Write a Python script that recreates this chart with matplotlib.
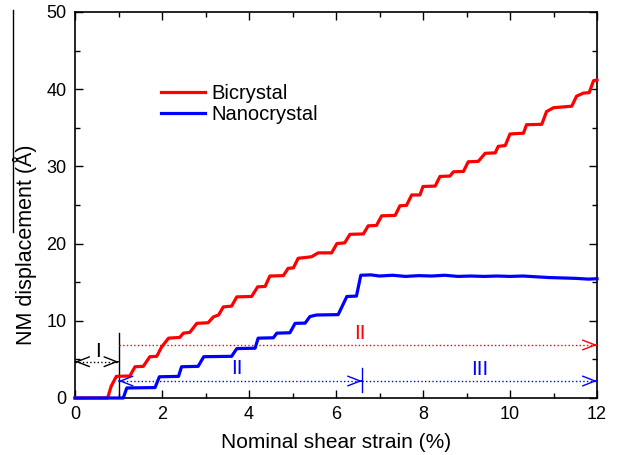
import numpy as np
import matplotlib
matplotlib.use('Agg')
import matplotlib.pyplot as plt
from matplotlib.ticker import MultipleLocator
from matplotlib.lines import Line2D

plt.rcParams['font.family'] = ['Liberation Sans', 'DejaVu Sans']

# Bicrystal curve (strain %, displacement A)
bi_x = [0, 0.75, 0.83, 0.95, 1.26, 1.38, 1.57, 1.72, 1.88, 1.99, 2.15, 2.41, 2.49, 2.64,
        2.8, 3.06, 3.18, 3.3, 3.41, 3.6, 3.72, 4.06, 4.2, 4.37, 4.48, 4.79, 4.9, 5.02,
        5.13, 5.3, 5.44, 5.59, 5.9, 6.02, 6.2, 6.32, 6.63, 6.74, 6.93, 7.05, 7.36, 7.47,
        7.62, 7.74, 7.93, 8.0, 8.28, 8.39, 8.62, 8.7, 8.93, 9.04, 9.27, 9.43, 9.66, 9.73,
        9.89, 10.0, 10.31, 10.38, 10.73, 10.84, 11.0, 11.42, 11.53, 11.69, 11.82, 11.92, 12.0]
bi_y = [0, 0, 1.5, 2.8, 2.85, 4.05, 4.1, 5.35, 5.4, 6.6, 7.75, 7.85, 8.4, 8.5,
        9.67, 9.75, 10.5, 10.75, 11.8, 11.9, 13.1, 13.15, 14.4, 14.45, 15.8, 15.85, 16.8, 16.85,
        18.1, 18.2, 18.3, 18.8, 18.8, 20.0, 20.1, 21.2, 21.25, 22.3, 22.35, 23.6, 23.65, 24.9,
        24.95, 26.3, 26.3, 27.4, 27.45, 28.7, 28.75, 29.3, 29.35, 30.6, 30.65, 31.7, 31.75, 32.6,
        32.7, 34.2, 34.3, 35.4, 35.45, 37.1, 37.6, 37.8, 39.1, 39.5, 39.55, 41.1, 41.2]

# Nanocrystal curve
nano_x = [0, 1.11, 1.19, 1.84, 1.94, 2.38, 2.45, 2.83, 2.96, 3.6, 3.72, 4.14, 4.21, 4.56,
          4.64, 4.94, 5.06, 5.29, 5.4, 5.55, 6.05, 6.25, 6.47, 6.57, 6.8, 7.0, 7.3, 7.6,
          7.9, 8.2, 8.5, 8.8, 9.1, 9.4, 9.7, 10.0, 10.3, 10.6, 10.9, 11.2, 11.5, 11.8, 12.0]
nano_y = [0, 0, 1.3, 1.35, 2.75, 2.8, 4.05, 4.1, 5.35, 5.4, 6.4, 6.45, 7.75, 7.8,
          8.4, 8.45, 9.67, 9.7, 10.55, 10.75, 10.8, 13.15, 13.2, 15.9, 15.95, 15.8, 15.9, 15.75,
          15.85, 15.8, 15.9, 15.75, 15.8, 15.75, 15.8, 15.75, 15.8, 15.7, 15.6, 15.55, 15.5, 15.4, 15.45]

# stage markers
strain_1 = 1.0
strain_2 = 6.6
y_black = 4.7
y_red = 6.87
y_blue = 2.2

fig = plt.figure(figsize=(6.17, 4.55), dpi=100)
ax = fig.add_axes([75/617, 57/455, 522/617, 386/455])

ax.plot(bi_x, bi_y, color='#ff0000', lw=2.3, label='Bicrystal', clip_on=False, zorder=3)
ax.plot(nano_x, nano_y, color='#0000ff', lw=2.3, label='Nanocrystal', clip_on=False, zorder=4)

def head(x0, x1, y, c):
    ax.annotate('', xy=(x1, y), xytext=(x0, y),
                arrowprops=dict(arrowstyle='->,head_length=0.9,head_width=0.35',
                                color=c, lw=1.0, shrinkA=0, shrinkB=0))

# stage I (black)
ax.plot([0, strain_1], [y_black, y_black], color='black', lw=1.0, ls=':')
head(0.02, 0, y_black, 'black')
head(strain_1 - 0.02, strain_1, y_black, 'black')
ax.plot([strain_1, strain_1], [0, 8.4], color='black', lw=1.0)
ax.text(0.53, 6.0, 'I', color='black', fontsize=15, ha='center', va='center')

# bicrystal stage II (red)
ax.plot([strain_1, 12], [y_red, y_red], color='#ff0000', lw=1.0, ls=':')
head(11.98, 12, y_red, '#ff0000')
ax.text(6.55, 8.3, 'II', color='#ff0000', fontsize=15, ha='center', va='center')

# nanocrystal stages II and III (blue)
ax.plot([strain_1, 12], [y_blue, y_blue], color='#0000ff', lw=1.0, ls=':')
head(strain_1 + 0.02, strain_1, y_blue, '#0000ff')
head(strain_2 - 0.02, strain_2, y_blue, '#0000ff')
head(11.98, 12, y_blue, '#0000ff')
ax.plot([strain_2, strain_2], [0.8, 3.9], color='#0000ff', lw=1.0)
ax.text(3.72, 3.85, 'II', color='#0000ff', fontsize=15, ha='center', va='center')
ax.text(9.31, 3.75, 'III', color='#0000ff', fontsize=15, ha='center', va='center')

ax.set_xlim(0, 12)
ax.set_ylim(0, 50)
ax.xaxis.set_major_locator(MultipleLocator(2))
ax.xaxis.set_minor_locator(MultipleLocator(1))
ax.yaxis.set_major_locator(MultipleLocator(10))
ax.yaxis.set_minor_locator(MultipleLocator(5))
ax.tick_params(which='both', direction='in', top=True, right=True, width=1, labelsize=13)
ax.tick_params(which='major', length=6, pad=6)
ax.tick_params(which='minor', length=3.5)
for s in ax.spines.values():
    s.set_linewidth(1.2)

ax.set_xlabel('Nominal shear strain (%)', fontsize=15, labelpad=7)
fig.text(25/617, 1 - 245/455, 'NM displacement (Å)', rotation=90, fontsize=15.5,
         ha='center', va='center')
fig.add_artist(Line2D([13/617, 13/617], [1 - 10/455, 1 - 232/455], color='black', lw=1.0))

ax.legend(loc='upper left', bbox_to_anchor=(0.145, 0.84), frameon=False, fontsize=14.5,
          handlelength=2.2, handletextpad=0.3, labelspacing=0.1, borderpad=0)

fig.savefig('out.png', dpi=100)
